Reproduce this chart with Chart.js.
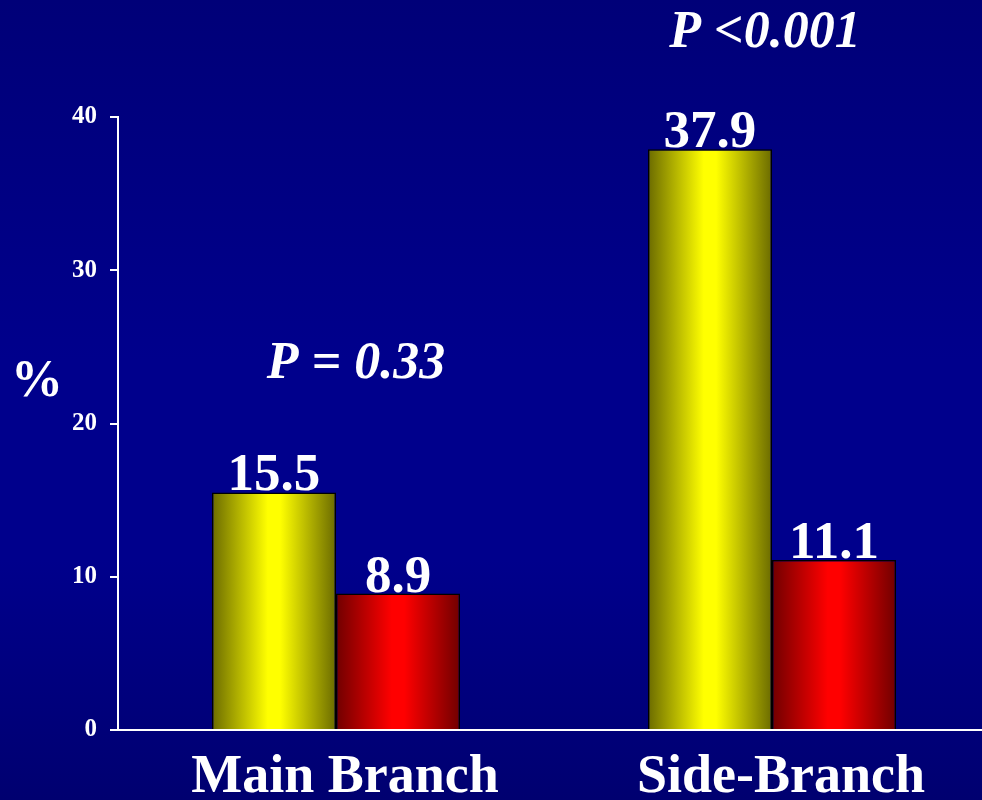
<!DOCTYPE html>
<html>
<head>
<meta charset="utf-8">
<script src="https://cdn.jsdelivr.net/npm/chart.js@4.4.1/dist/chart.umd.min.js"></script>
<style>
  html, body { margin: 0; padding: 0; overflow: hidden; width: 982px; height: 800px; }
  body { background: linear-gradient(to bottom, #000078 0%, #00008c 45%, #00008c 70%, #000070 100%); }
  canvas { display: block; }
</style>
</head>
<body>
<canvas id="chart" width="990" height="800"></canvas>
<script>
// Categories and the two series (percent)
const categories = ['Main Branch', 'Side-Branch'];
const groupA = [15.5, 37.9];
const groupB = [8.9, 11.1];
const yTicks = [0, 10, 20, 30, 40];
const pValues = ['P = 0.33', 'P <0.001'];

const SERIF = '"Liberation Serif", "Times New Roman", serif';
const CAT_PCT = 0.569;

// Cylinder-like horizontal shading across each bar
function barShade(ctx, light, dark) {
  const chart = ctx.chart;
  const x = chart.scales && chart.scales.x;
  if (!x || !chart.chartArea) return light;
  const center = x.getPixelForValue(ctx.dataIndex);
  const catW = (x.right - x.left) / categories.length;
  const barW = catW * CAT_PCT / 2;
  const left = ctx.datasetIndex === 0 ? center - barW : center;
  const g = chart.ctx.createLinearGradient(left, 0, left + barW, 0);
  g.addColorStop(0, dark);
  g.addColorStop(0.45, light);
  g.addColorStop(0.55, light);
  g.addColorStop(1, dark);
  return g;
}

// Value labels above bars, p-values, and the % axis title
const annotations = {
  id: 'annotations',
  afterDatasetsDraw(chart) {
    const c = chart.ctx;
    c.save();
    c.fillStyle = '#ffffff';
    c.textAlign = 'center';
    c.textBaseline = 'alphabetic';
    c.font = 'bold 53px ' + SERIF;
    chart.data.datasets.forEach((ds, di) => {
      chart.getDatasetMeta(di).data.forEach((el, i) => {
        c.fillText(ds.data[i].toFixed(1), el.x, el.y - 2);
      });
    });
    const x = chart.scales.x, y = chart.scales.y;
    c.font = 'italic bold 52px ' + SERIF;
    c.fillText(pValues[0], x.getPixelForValue(0) + 20, y.getPixelForValue(23));
    c.fillText(pValues[1], x.getPixelForValue(1) - 7, 47);
    c.font = 'bold 52px ' + SERIF;
    c.fillText('%', 37, y.getPixelForValue(22.5) + 11);
    c.restore();
  }
};

new Chart(document.getElementById('chart'), {
  type: 'bar',
  data: {
    labels: categories,
    datasets: [
      {
        data: groupA,
        backgroundColor: (ctx) => barShade(ctx, '#ffff00', '#6b6b00'),
        borderColor: '#000000',
        borderWidth: 1.5
      },
      {
        data: groupB,
        backgroundColor: (ctx) => barShade(ctx, '#ff0000', '#700000'),
        borderColor: '#000000',
        borderWidth: 1.5
      }
    ]
  },
  options: {
    responsive: false,
    animation: false,
    events: [],
    layout: { padding: { top: 117, right: 0, left: 0, bottom: 0 } },
    plugins: { legend: { display: false }, tooltip: { enabled: false } },
    datasets: { bar: { barPercentage: 1, categoryPercentage: CAT_PCT } },
    scales: {
      x: {
        grid: { display: false, drawTicks: false },
        border: { color: '#ffffff', width: 2 },
        ticks: { color: '#ffffff', font: { family: SERIF, size: 54, weight: 'bold' }, padding: 16, maxRotation: 0, labelOffset: 9 },
        afterFit(s) { s.height = 70; }
      },
      y: {
        min: 0,
        max: 40,
        afterBuildTicks(s) { s.ticks = yTicks.map(v => ({ value: v })); },
        grid: { drawOnChartArea: false, drawTicks: true, tickLength: 8, color: '#ffffff', lineWidth: 2 },
        border: { color: '#ffffff', width: 2 },
        ticks: { color: '#ffffff', font: { family: SERIF, size: 25, weight: 'bold' }, padding: 13 },
        afterFit(s) { s.width = 118; }
      }
    }
  },
  plugins: [annotations]
});
</script>
</body>
</html>
